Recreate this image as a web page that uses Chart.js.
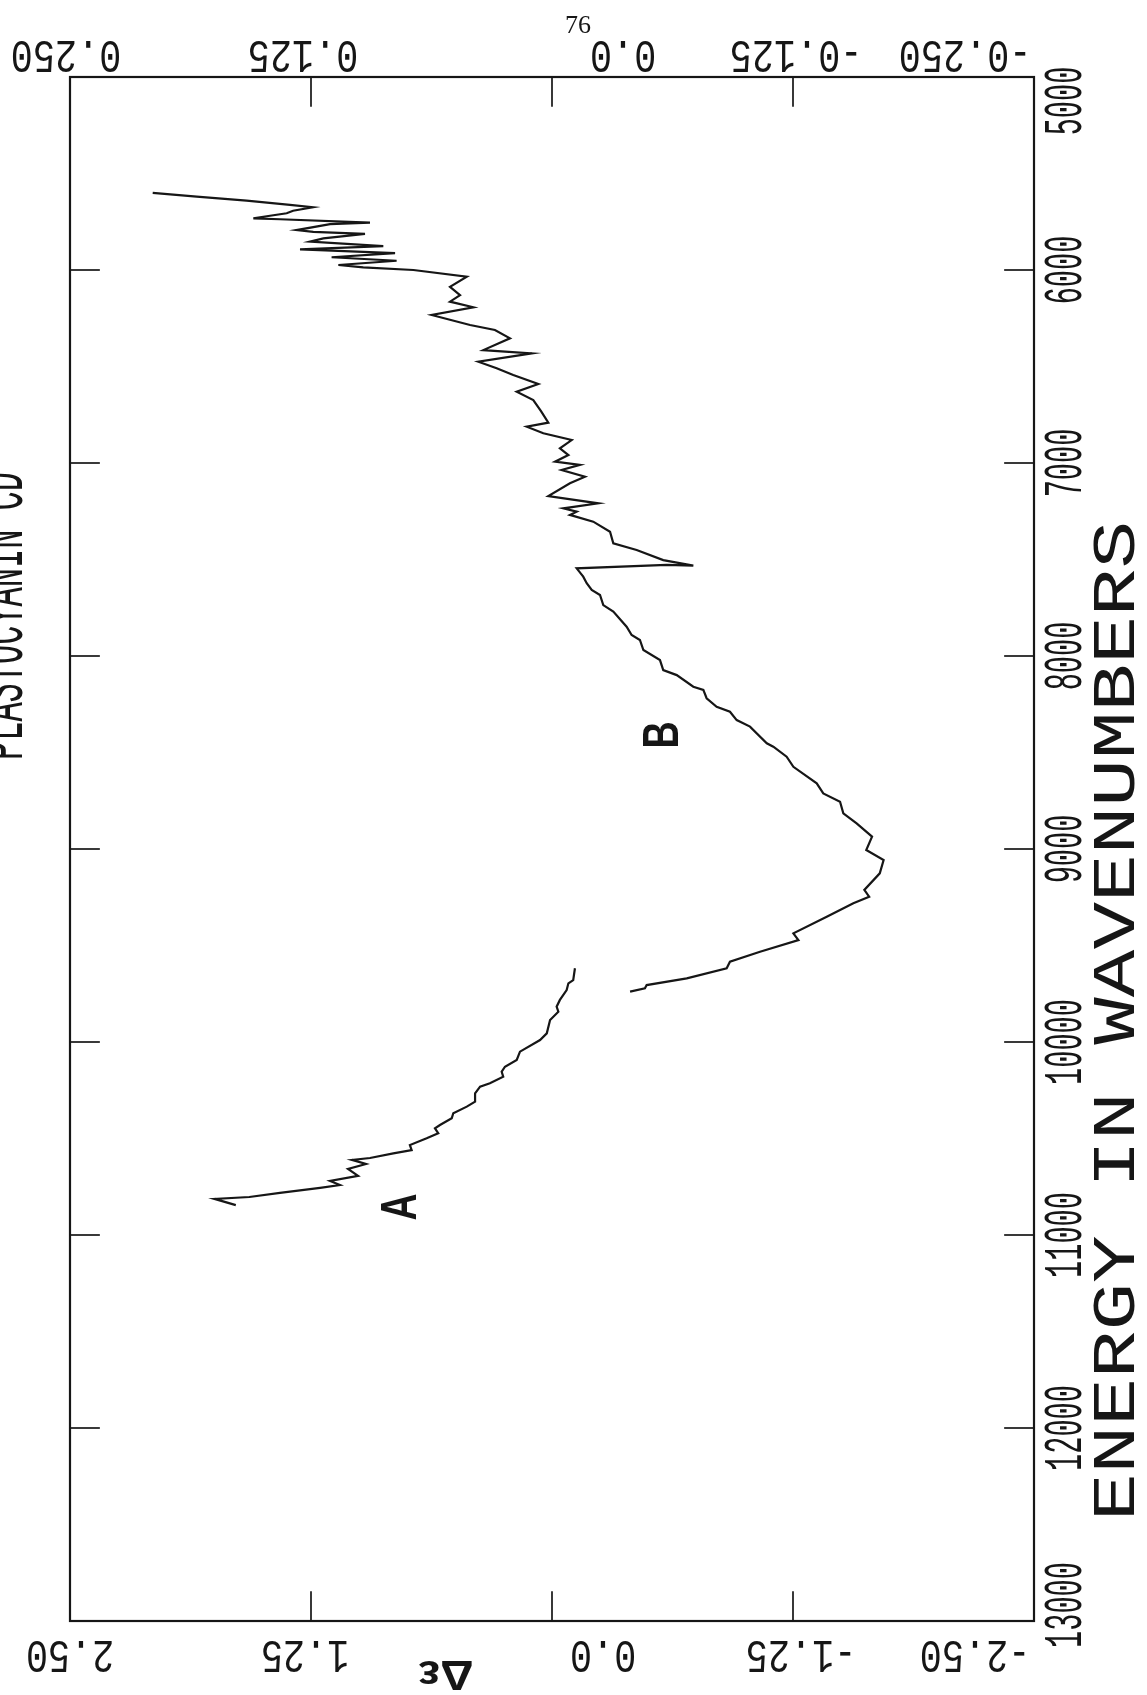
<!DOCTYPE html>
<html>
<head>
<meta charset="utf-8">
<title>Plastocyanin CD</title>
<script src="https://cdn.jsdelivr.net/npm/chart.js@4.4.1/dist/chart.umd.min.js"></script>
<style>
  html, body { margin: 0; padding: 0; background: #ffffff; }
  #wrap { width: 1147px; height: 1695px; }
</style>
</head>
<body>
<div id="wrap"><canvas id="cd" width="1147" height="1695"></canvas></div>
<script>
// ---- data -------------------------------------------------------------
// Energy axis (wavenumbers, cm^-1)
const energyTicks = [5000, 6000, 7000, 8000, 9000, 10000, 11000, 12000, 13000];
const energyLabels = ['5000', '6000', '7000', '8000', '9000', '10000', '11000', '12000', '13000'];

// Δε axis, lower scale
const deltaTicks = [2.5, 1.25, 0, -1.25, -2.5];
const deltaLabels = ['2.50', '1.25', '0.0', '-1.25', '-2.50'];

// Δε axis, upper (expanded) scale
const deltaFineTicks = [0.25, 0.125, 0, -0.125, -0.25];
const deltaFineLabels = ['0.250', '0.125', '0.0', '-0.125', '-0.250'];

// Spectrum B (upper scale units)
const energyB = [
  5600, 5620, 5641, 5663, 5675, 5693, 5706, 5732, 5737, 5755,
  5762, 5793, 5802, 5813, 5836, 5853, 5876, 5893, 5913, 5934,
  5952, 5974, 5986, 6000, 6035, 6087, 6130, 6164, 6193, 6233,
  6285, 6311, 6354, 6415, 6432, 6475, 6509, 6544, 6591, 6631,
  6674, 6731, 6791, 6812, 6846, 6881, 6924, 6959, 6993, 7010,
  7036, 7071, 7105, 7171, 7209, 7235, 7252, 7269, 7304, 7356,
  7416, 7451, 7503, 7532, 7528, 7546, 7589,
  7623, 7658, 7684, 7736, 7770, 7848, 7891, 7917, 7969, 8021,
  8073, 8099, 8159, 8176, 8219, 8263, 8289, 8332, 8366, 8452,
  8470, 8522, 8574, 8660, 8712, 8755, 8815, 8867, 8936, 9005,
  9057, 9126, 9212, 9247, 9281, 9351, 9437, 9472, 9532, 9584,
  9618, 9670, 9705, 9722, 9739
];
const deltaB = [
  0.2071, 0.1843, 0.1584, 0.1359, 0.1241, 0.1343, 0.1376, 0.1549, 0.1411, 0.0944,
  0.1151, 0.1324, 0.1238, 0.0970, 0.1186, 0.1255, 0.0875, 0.1307, 0.0814, 0.1143,
  0.0806, 0.1108, 0.0979, 0.0719, 0.0442, 0.0529, 0.0477, 0.0529, 0.0408, 0.0624,
  0.0425, 0.0296, 0.0218, 0.0356, 0.0105, 0.0382, 0.0287, 0.0201, 0.0071, 0.0183,
  0.0097, 0.0057, 0.0019, 0.0131, 0.0045, -0.0102, -0.0041, -0.0085, -0.0016, -0.0145,
  -0.0050, -0.0171, -0.0093, 0.0019, -0.0240, -0.0059, -0.0128, -0.0093, -0.0214, -0.0301,
  -0.0318, -0.0439, -0.0577, -0.0733, -0.0595, -0.0128, -0.0162,
  -0.0180, -0.0206, -0.0249, -0.0266, -0.0318, -0.0387, -0.0413, -0.0456, -0.0474, -0.0560,
  -0.0577, -0.0647, -0.0733, -0.0785, -0.0802, -0.0854, -0.0923, -0.0958, -0.1027, -0.1114,
  -0.1148, -0.1217, -0.1252, -0.1373, -0.1407, -0.1494, -0.1511, -0.1580, -0.1660, -0.1630,
  -0.1720, -0.1700, -0.1620, -0.1645, -0.1563, -0.1425, -0.1252, -0.1278, -0.1079, -0.0923,
  -0.0906, -0.0699, -0.0491, -0.0482, -0.0405
];

// Spectrum A (lower scale units)
const energyA = [
  9618, 9679, 9696, 9731, 9782, 9817, 9843, 9886, 9955, 9990,
  10050, 10093, 10128, 10154, 10180, 10214, 10231, 10266, 10309, 10335,
  10369, 10395, 10430, 10447, 10473, 10499, 10534, 10560, 10577, 10601,
  10611, 10632, 10658, 10694, 10720, 10741, 10756, 10782, 10803, 10813,
  10845
];
const deltaA = [
  -0.119, -0.110, -0.085, -0.076, -0.041, -0.024, -0.033, 0.010, 0.027, 0.062,
  0.166, 0.183, 0.244, 0.261, 0.253, 0.322, 0.373, 0.399, 0.399, 0.442,
  0.512, 0.520, 0.581, 0.607, 0.590, 0.650, 0.737, 0.728, 0.823, 0.944,
  1.037, 0.965, 1.058, 1.006, 1.151, 1.100, 1.203, 1.411, 1.570, 1.750,
  1.640
];

const plotTitle = 'PLASTOCYANIN CD';
const energyTitle = 'ENERGY IN WAVENUMBERS';
const deltaTitle = 'Δε';
const pageNumber = '76';

// ---- styling ----------------------------------------------------------
const INK = '#161616';
const MONO = '"Liberation Mono", "DejaVu Sans Mono", monospace';
const TICK_LEN = 29;
// per-label nudges (px) as lettered by the plotter
const topLabelShift = [-4, -8, 71, 3, -69];
const bottomLabelShift = [0, -6, 51, 8, -59];
const rightLabelShift = [24, 0, 0, 0, 0, 0, 0, 0, -16];

function pairs(xs, ys) {
  return xs.map((e, i) => ({ x: ys[i], y: e }));
}

// text centred on its glyph box, rotated and squeezed along the reading direction
function glyphText(ctx, text, cx, cy, rot, font, sx) {
  ctx.save();
  ctx.font = font;
  ctx.translate(cx, cy);
  ctx.rotate(rot);
  ctx.scale(sx, 1);
  ctx.textAlign = 'center';
  ctx.textBaseline = 'alphabetic';
  const m = ctx.measureText(text);
  const off = (m.actualBoundingBoxAscent - m.actualBoundingBoxDescent) / 2;
  ctx.fillText(text, 0, off);
  ctx.restore();
}

function seg(ctx, x1, y1, x2, y2) {
  ctx.beginPath();
  ctx.moveTo(x1, y1);
  ctx.lineTo(x2, y2);
  ctx.stroke();
}

const plotterFrame = {
  id: 'plotterFrame',
  afterDraw(chart) {
    const { ctx, chartArea: a, scales } = chart;
    const sx = scales.x, sx2 = scales.x2, sy = scales.y;
    ctx.save();
    ctx.strokeStyle = INK;
    ctx.fillStyle = INK;
    ctx.lineCap = 'square';

    // frame
    ctx.lineWidth = 2.2;
    ctx.strokeRect(a.left, a.top, a.right - a.left, a.bottom - a.top);

    // inward tick marks
    ctx.lineWidth = 1.7;
    energyTicks.slice(1, -1).forEach(e => {
      const y = sy.getPixelForValue(e);
      seg(ctx, a.left, y, a.left + TICK_LEN, y);
      seg(ctx, a.right, y, a.right - TICK_LEN, y);
    });
    deltaFineTicks.slice(1, -1).forEach(v => {
      const x = sx2.getPixelForValue(v);
      seg(ctx, x, a.top, x, a.top + TICK_LEN);
    });
    deltaTicks.slice(1, -1).forEach(v => {
      const x = sx.getPixelForValue(v);
      seg(ctx, x, a.bottom, x, a.bottom - TICK_LEN);
    });

    // tick labels: upper and lower scales are lettered upside down
    const tbFont = '46px ' + MONO;
    deltaFineTicks.forEach((v, i) => {
      glyphText(ctx, deltaFineLabels[i], sx2.getPixelForValue(v) + topLabelShift[i],
        a.top - 21, Math.PI, tbFont, 0.8);
    });
    deltaTicks.forEach((v, i) => {
      glyphText(ctx, deltaLabels[i], sx.getPixelForValue(v) + bottomLabelShift[i],
        a.bottom + 35, Math.PI, tbFont, 0.8);
    });
    // energy labels read upward along the right edge
    const rFont = '54px ' + MONO;
    energyTicks.forEach((e, i) => {
      glyphText(ctx, energyLabels[i], a.right + 29, sy.getPixelForValue(e) + rightLabelShift[i],
        -Math.PI / 2, rFont, 0.53);
    });

    // axis titles
    glyphText(ctx, energyTitle, a.right + 80, 1021, -Math.PI / 2, '62px ' + MONO, 1.28);
    glyphText(ctx, deltaTitle, 446, a.bottom + 54, Math.PI, 'bold 42px "Liberation Sans", Arial, sans-serif', 1.1);
    glyphText(ctx, plotTitle, 0, 616, -Math.PI / 2, '64px ' + MONO, 0.5);

    // curve letters
    const letterFont = 'bold 50px "Liberation Sans", Arial, sans-serif';
    glyphText(ctx, 'B', 660, 735, -Math.PI / 2, letterFont, 0.75);
    glyphText(ctx, 'A', 398, 1207, -Math.PI / 2, letterFont, 0.75);

    // page number
    glyphText(ctx, pageNumber, 578, 24, 0, '26px "Liberation Serif", "DejaVu Serif", serif', 1);
    ctx.restore();
  }
};

new Chart(document.getElementById('cd'), {
  type: 'scatter',
  data: {
    datasets: [
      {
        label: 'A',
        data: pairs(energyA, deltaA),
        xAxisID: 'x',
        yAxisID: 'y',
        showLine: true,
        borderColor: INK,
        borderWidth: 2.2,
        pointRadius: 0,
        tension: 0
      },
      {
        label: 'B',
        data: pairs(energyB, deltaB),
        xAxisID: 'x2',
        yAxisID: 'y',
        showLine: true,
        borderColor: INK,
        borderWidth: 2.2,
        pointRadius: 0,
        tension: 0
      }
    ]
  },
  options: {
    responsive: false,
    devicePixelRatio: 1,
    animation: false,
    layout: { padding: { left: 70, right: 113, top: 77, bottom: 74 } },
    plugins: { legend: { display: false }, tooltip: { enabled: false } },
    scales: {
      x: { type: 'linear', position: 'bottom', min: -2.5, max: 2.5, reverse: true, display: false },
      x2: { type: 'linear', position: 'top', min: -0.25, max: 0.25, reverse: true, display: false },
      y: { type: 'linear', position: 'right', min: 5000, max: 13000, reverse: true, display: false }
    }
  },
  plugins: [plotterFrame]
});
</script>
</body>
</html>
